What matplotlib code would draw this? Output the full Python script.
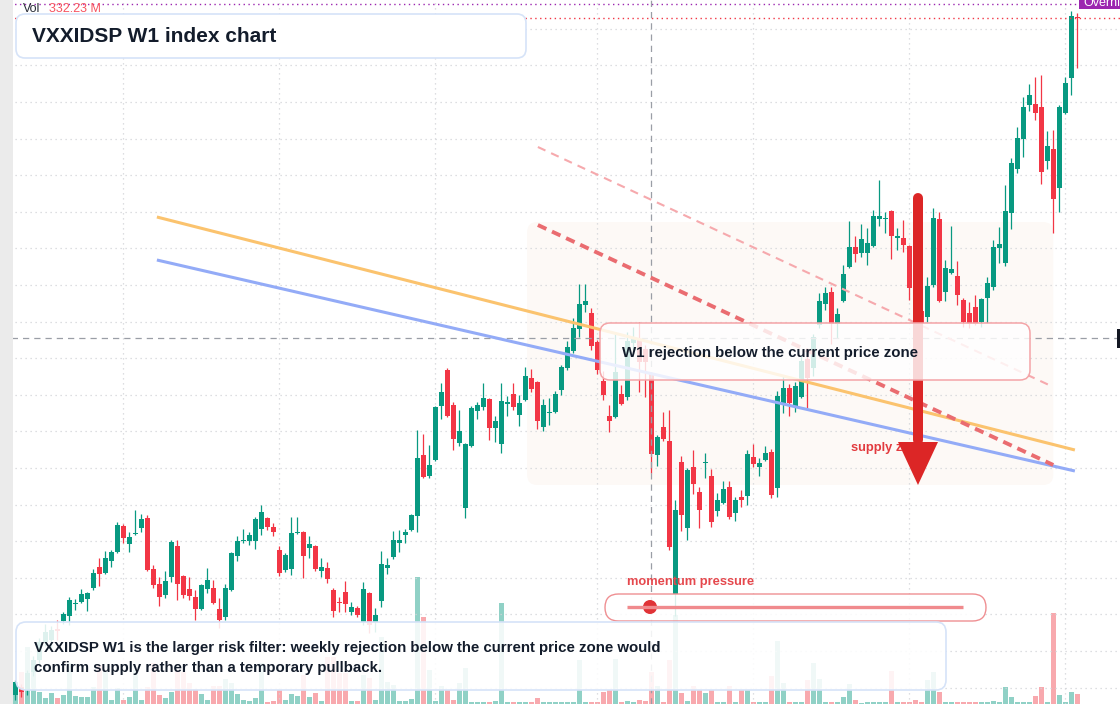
import numpy as np
import matplotlib.pyplot as plt
from matplotlib.patches import FancyBboxPatch, Rectangle, Circle

plt.rcParams['font.family'] = ['Liberation Sans', 'DejaVu Sans']

# weekly candles, oldest first (price units, arbitrary index scale)
opens = [9, 17, 14, 32, 44, 62, 64, 75, 83, 88,
         100, 102, 105, 116, 137, 131, 143, 152, 178, 160,
         170, 176, 186, 135, 120, 109, 127, 158, 128, 115,
         107, 95, 115, 116, 95, 87, 114, 148, 163, 163,
         163, 175, 186, 177, 154, 134, 135, 171, 172, 156,
         158, 133, 136, 114, 102, 112, 92, 96, 82, 111,
         82, 103, 136, 147, 161, 169, 174, 188, 249, 228,
         244, 298, 334, 299, 261, 196, 258, 293, 297, 305,
         276, 260, 300, 310, 289, 304, 326, 322, 277, 291,
         292, 314, 336, 353, 375, 399, 391, 362, 323, 288,
         287, 310, 307, 361, 364, 355, 330, 249, 277, 263,
         110, 242, 176, 237, 212, 241, 228, 193, 201, 217,
         191, 207, 208, 247, 237, 244, 252, 216, 301, 316,
         297, 307, 345, 336, 379, 400, 412, 380, 403, 437,
         457, 451, 451, 458, 485, 485, 493, 466, 466, 458,
         416, 393, 387, 419, 485, 412, 431, 428, 404, 391,
         397, 382, 406, 417, 456, 441, 491, 535, 565, 599,
         600, 597, 543, 555, 516, 591, 626, 687]
highs = [24, 20, 34, 48, 66, 80, 78, 84, 92, 107,
         105, 115, 112, 135, 146, 153, 154, 182, 180, 172,
         194, 190, 189, 139, 127, 133, 164, 164, 129, 127,
         114, 120, 136, 124, 106, 120, 152, 168, 175, 172,
         187, 199, 187, 181, 158, 151, 187, 187, 173, 168,
         159, 146, 142, 116, 107, 123, 102, 98, 122, 112,
         96, 153, 146, 173, 174, 175, 190, 274, 270, 259,
         298, 321, 336, 302, 294, 261, 298, 302, 321, 306,
         288, 321, 308, 321, 309, 337, 335, 323, 305, 306,
         313, 339, 363, 386, 420, 420, 396, 364, 333, 299,
         372, 319, 372, 377, 382, 359, 332, 269, 292, 294,
         204, 248, 236, 254, 217, 251, 235, 211, 223, 223,
         207, 214, 254, 260, 246, 258, 255, 313, 328, 320,
         322, 348, 348, 370, 411, 417, 417, 396, 439, 483,
         468, 480, 476, 494, 524, 492, 494, 476, 484, 459,
         419, 399, 427, 496, 492, 444, 478, 443, 406, 402,
         409, 406, 427, 464, 477, 519, 546, 577, 607, 620,
         627, 629, 573, 574, 599, 627, 693, 691]
lows = [4, 7, 9, 28, 40, 58, 56, 64, 80, 79,
        94, 101, 93, 114, 118, 130, 137, 151, 161, 152,
        169, 172, 133, 116, 98, 106, 122, 104, 106, 104,
        84, 94, 111, 100, 76, 84, 113, 143, 161, 159,
        155, 169, 174, 168, 128, 132, 129, 170, 126, 146,
        133, 127, 121, 87, 92, 92, 89, 87, 79, 71,
        72, 97, 130, 145, 152, 161, 173, 172, 226, 226,
        243, 285, 287, 254, 258, 186, 257, 285, 294, 264,
        262, 251, 288, 294, 278, 303, 312, 275, 273, 279,
        291, 309, 334, 351, 367, 392, 354, 330, 304, 272,
        286, 299, 304, 354, 312, 307, 231, 238, 263, 154,
        88, 173, 164, 210, 176, 226, 177, 188, 200, 185,
        183, 197, 199, 237, 228, 243, 206, 207, 291, 288,
        292, 306, 296, 328, 376, 394, 360, 366, 402, 436,
        442, 447, 439, 457, 478, 471, 445, 454, 452, 404,
        389, 374, 382, 417, 402, 403, 430, 399, 377, 376,
        379, 377, 381, 414, 441, 438, 475, 531, 547, 593,
        584, 520, 535, 471, 492, 590, 609, 636]
closes = [22, 12, 31, 44, 62, 72, 74, 73, 90, 104,
          101, 110, 111, 131, 130, 146, 152, 179, 166, 167,
          171, 185, 134, 119, 107, 123, 162, 120, 109, 108,
          95, 119, 124, 101, 84, 116, 151, 163, 164, 169,
          185, 192, 177, 172, 131, 149, 171, 172, 148, 160,
          135, 137, 125, 93, 101, 100, 97, 89, 115, 79,
          89, 140, 139, 164, 164, 172, 189, 246, 227, 239,
          297, 312, 288, 265, 273, 260, 296, 299, 306, 276,
          283, 303, 302, 297, 301, 328, 315, 283, 299, 292,
          310, 337, 357, 376, 400, 403, 358, 334, 309, 283,
          332, 300, 363, 367, 342, 342, 250, 267, 265, 157,
          194, 189, 234, 220, 194, 242, 182, 204, 215, 187,
          204, 204, 250, 240, 241, 251, 209, 308, 316, 301,
          318, 343, 326, 367, 403, 411, 380, 390, 430, 457,
          450, 465, 461, 488, 488, 486, 468, 468, 459, 416,
          393, 381, 418, 486, 403, 436, 435, 409, 382, 380,
          380, 405, 421, 457, 460, 493, 541, 566, 597, 609,
          591, 532, 558, 505, 597, 621, 688, 686]
# weekly volume, millions
volumes = [465, 1062, 1892, 1129, 398, 199, 365, 199, 299, 1361,
           266, 232, 232, 564, 1295, 1062, 133, 531, 133, 232,
           1129, 133, 564, 1361, 299, 199, 398, 1129, 1062, 697,
           498, 332, 133, 598, 598, 830, 697, 332, 133, 100,
           199, 1361, 66, 100, 465, 133, 332, 266, 963, 232,
           365, 100, 1560, 1560, 1029, 1029, 100, 100, 963, 863,
           133, 2224, 730, 631, 100, 100, 166, 4216, 2888, 1129,
           100, 598, 465, 133, 697, 1195, 50, 50, 50, 50,
           100, 3353, 50, 50, 50, 50, 50, 199, 50, 50,
           50, 50, 50, 50, 1461, 50, 50, 50, 398, 465,
           1494, 66, 100, 66, 133, 100, 1062, 598, 66, 1461,
           2955, 365, 100, 598, 465, 365, 465, 66, 66, 598,
           66, 465, 465, 66, 66, 66, 930, 2092, 697, 66,
           66, 66, 797, 1361, 830, 66, 66, 66, 232, 664,
           133, 33, 66, 66, 66, 66, 1096, 66, 66, 66,
           133, 66, 797, 1062, 398, 66, 66, 66, 66, 66,
           66, 66, 66, 100, 66, 564, 232, 66, 66, 66,
           266, 564, 66, 3021, 299, 66, 398, 332.23]

# drawn levels (candle index, price)
orange_x, orange_y = [23.6, 176.6], [487, 254]
blue_x, blue_y = [23.6, 176.6], [444, 233]
dash_x, dash_y = [87.1, 173.0], [479, 239]
dash_light_y = [557, 317]
zone_x, zone_y = [85.3, 173.0], [219, 482]
arrow_x, arrow_top, arrow_base, arrow_tip = 150.45, 506, 262, 219
cross_x, cross_y = 106, 366
last_price, session_price = 686, 700

UP, DOWN = '#089981', '#f23645'
TEXT = '#131c2b'

n = len(opens)
idx = np.arange(n)
o, h, l, c = map(np.array, (opens, highs, lows, closes))
up = c >= o
col = np.where(up, UP, DOWN)

fig = plt.figure(figsize=(11.2, 7.04), dpi=100)
fig.patch.set_facecolor('white')

ax_vol = fig.add_axes([0, 0, 1, 1], zorder=0)
ax = fig.add_axes([0, 0, 1, 1], zorder=1)
ov = fig.add_axes([0, 0, 1, 1], zorder=2)

xlim = (-2.55, 184.12)
for a in (ax_vol, ax):
    a.set_xlim(*xlim)
    for s in a.spines.values():
        s.set_visible(False)
    a.tick_params(length=0, labelleft=False, labelbottom=False)
ax.patch.set_visible(False)
ax.set_ylim(0, 704)

# volume pane
ax_vol.set_ylim(0, 704 * 33.2)
ax_vol.bar(idx, volumes, width=0.78, color=np.where(up, '#90d1c6', '#f8a9ae'), linewidth=0)
ax_vol.set_xticks([])
ax_vol.set_yticks([])

# grid
ax.set_yticks([675.3 - 36.6 * k for k in range(19)])
ax.set_xticks([18, 44, 70, 97, 123, 149, 175])
ax.grid(True, color='#d2d4d8', linestyle=(0, (1, 3)), linewidth=0.9)
ax.set_axisbelow(True)

# supply zone
zone = FancyBboxPatch((zone_x[0], zone_y[0]), zone_x[1] - zone_x[0], zone_y[1] - zone_y[0],
                      boxstyle='round,pad=0,rounding_size=1.7', mutation_aspect=6,
                      facecolor='#fdf9f6', edgecolor='none', zorder=0.5)
ax.add_patch(zone)

# candles
ax.vlines(idx, l, h, colors=col, linewidth=0.9, zorder=2)
body_lo = np.minimum(o, c)
body_h = np.maximum(np.abs(c - o), 1.2)
ax.bar(idx, body_h, bottom=body_lo, width=0.78, color=col, linewidth=0, zorder=2)

# price lines
ax.axhline(session_price, color='#9c27b0', linestyle=(0, (1, 2.5)), linewidth=1, zorder=3)
ax.axhline(last_price, color=DOWN, linestyle=(0, (1, 2.5)), linewidth=1, zorder=3)
ax.axvline(cross_x, color='#9a9ea6', linestyle=(0, (5, 4)), linewidth=0.9, zorder=3)
ax.axhline(cross_y, color='#9a9ea6', linestyle=(0, (5, 4)), linewidth=0.9, zorder=3)

# trend lines
ax.plot(orange_x, orange_y, color='#fbc36e', linewidth=2.2, zorder=4, solid_capstyle='butt')
ax.plot(blue_x, blue_y, color='#93abf7', linewidth=2.2, zorder=4, solid_capstyle='butt')
ax.plot(dash_x, dash_light_y, color='#f6a9ad', linewidth=1.5, linestyle=(0, (4, 3)), zorder=4)
ax.plot(dash_x, dash_y, color='#ea6c70', linewidth=2.8, linestyle=(0, (2.4, 1.6)), zorder=4)

ax.text(139.3, 256, 'supply zone', color='#e23b3f', fontsize=9.3, fontweight='bold',
        va='center', ha='left', zorder=5)

# arrow
ax.plot([arrow_x, arrow_x], [arrow_top, arrow_base + 2], color='#dc2626', linewidth=7.2,
        solid_capstyle='round', zorder=6)
hw = 20 / 6
ax.fill([arrow_x - hw, arrow_x + hw, arrow_x], [arrow_base, arrow_base, arrow_tip],
        color='#dc2626', linewidth=0, zorder=6)

# overlay in pixel space
ov.set_xlim(0, 1120)
ov.set_ylim(704, 0)
ov.axis('off')
ov.patch.set_visible(False)

ov.add_patch(Rectangle((0, 0), 13, 704, facecolor='#ebebeb', edgecolor='none'))

ov.text(23, 9, 'Vol', fontsize=9, color='#2a2e39', va='center')
ov.text(49, 9, '332.23 M', fontsize=9, color='#f7525f', va='center')

ov.add_patch(Rectangle((1079, -2), 45, 11, facecolor='#9c27b0', edgecolor='none'))
ov.text(1083, 3, 'Overnight', fontsize=9, color='white', va='center', clip_on=True)
ov.add_patch(Rectangle((1117, 329), 5, 19, facecolor='#131722', edgecolor='none'))

ov.add_patch(FancyBboxPatch((16, 14), 510, 44, boxstyle='round,pad=0,rounding_size=9',
                            facecolor='white', edgecolor='#d6e3f8', linewidth=1.2))
ov.text(32, 36.5, 'VXXIDSP W1 index chart', fontsize=15, fontweight='bold', color=TEXT, va='center')

ov.add_patch(FancyBboxPatch((600, 323), 430, 57, boxstyle='round,pad=0,rounding_size=10',
                            facecolor=(1, 1, 1, 0.82), edgecolor='#f4a4a7', linewidth=1.1))
ov.text(622, 353, 'W1 rejection below the current price zone', fontsize=10.8,
        fontweight='bold', color=TEXT, va='center')

ov.text(627, 582, 'momentum pressure', fontsize=9.3, fontweight='bold', color='#e5484d', va='center')
ov.add_patch(FancyBboxPatch((605, 594), 381, 27, boxstyle='round,pad=0,rounding_size=13.5',
                            facecolor=(1, 1, 1, 0.85), edgecolor='#ef8f92', linewidth=1))
ov.plot([627, 963], [607, 607], color='#f08a8d', linewidth=2.4, solid_capstyle='butt')
ov.add_patch(Circle((650, 607), 7, facecolor='#e03337', edgecolor='none'))

ov.add_patch(FancyBboxPatch((16, 622), 930, 68, boxstyle='round,pad=0,rounding_size=10',
                            facecolor=(1, 1, 1, 0.87), edgecolor='#d6e3f8', linewidth=1.2))
ov.text(34, 648, 'VXXIDSP W1 is the larger risk filter: weekly rejection below the current price zone would',
        fontsize=10.8, fontweight='bold', color=TEXT, va='center')
ov.text(34, 668, 'confirm supply rather than a temporary pullback.',
        fontsize=10.8, fontweight='bold', color=TEXT, va='center')

fig.savefig('out.png', dpi=100)
